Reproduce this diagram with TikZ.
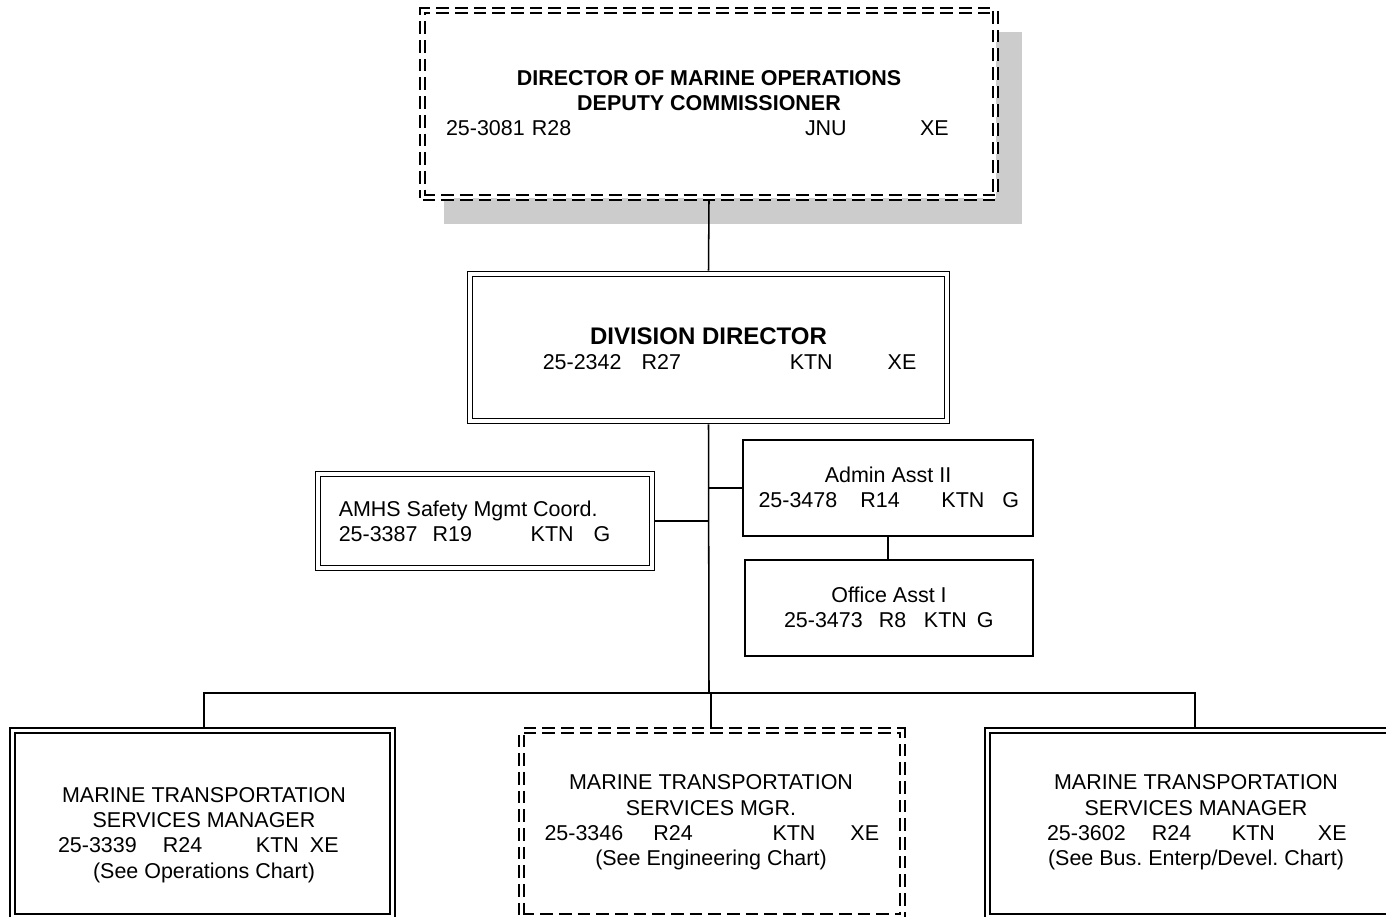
\documentclass[tikz,border=0pt]{standalone}
\usepackage{fontspec}
\setmainfont{Liberation Sans}
\frenchspacing
\newdimen\pu \pu=0.75pt
\newcommand\cel[2]{\makebox[#1\pu][l]{#2}}
\definecolor{shadowgray}{RGB}{204,204,204}
\begin{document}
\begin{tikzpicture}[x=0.75pt,y=-0.75pt,line width=1.15pt,
  every node/.style={font=\fontsize{16.1}{19}\selectfont},
  sbox/.style={draw,fill=white,inner sep=0pt},
  dbox/.style={draw,fill=white,inner sep=0pt,double,double distance=2.9pt,outer sep=2.6pt},
  dashbox/.style={dbox,dash pattern=on 9.5pt off 4.5pt},
  tx/.style={align=center,inner sep=0pt},
  link/.style={draw,line width=1.15pt}]
\useasboundingbox (0,0) rectangle (1386,917);
% shadow of top box
\fill[shadowgray] (444,32) rectangle (1022,224);
% boxes
\node[dashbox,minimum width=573*0.75pt,minimum height=187*0.75pt] (top) at (709,104) {};
\node[dbox,minimum width=477*0.75pt,minimum height=147*0.75pt] (div) at (708.5,347.5) {};
\node[dbox,minimum width=334*0.75pt,minimum height=94*0.75pt] (amhs) at (485,521) {};
\node[sbox,minimum width=290*0.75pt,minimum height=96*0.75pt] (admin) at (888,488) {};
\node[sbox,minimum width=288*0.75pt,minimum height=96*0.75pt] (office) at (889,608) {};
\node[dbox,minimum width=380*0.75pt,minimum height=186*0.75pt] (mleft) at (202.5,823.5) {};
\node[dashbox,minimum width=381*0.75pt,minimum height=186*0.75pt] (mmid) at (712,823.5) {};
\node[dbox,minimum width=420*0.75pt,minimum height=186*0.75pt] (mright) at (1197.5,823.5) {};
% texts
\node[tx] (ttop) at (709,103) {\textbf{DIRECTOR OF MARINE OPERATIONS}\\\textbf{DEPUTY COMMISSIONER}\\
  \cel{86}{25-3081}\cel{273}{R28}\cel{115}{JNU}\cel{52}{XE}};
\node[tx] (tdiv) at (708.5,348.5) {{\fontsize{18}{19}\selectfont\textbf{DIVISION DIRECTOR}}\\
  \hspace*{39.5\pu}\cel{99}{25-2342}\cel{148}{R27}\cel{98}{KTN}\cel{26}{XE}};
\node[tx,align=left,anchor=west] (tamhs) at (338,521) {AMHS Safety Mgmt Coord.\\
  \cel{94}{25-3387}\cel{98}{R19}\cel{63}{KTN}G};
\node[tx] (tadmin) at (888,487) {Admin Asst II\\
  \cel{102}{25-3478}\cel{81}{R14}\cel{61}{KTN}\cel{15}{G}};
\node[tx] (toffice) at (889,607.5) {Office Asst I\\
  \cel{95}{25-3473}\cel{45}{R8}\cel{53}{KTN}\cel{17}{G}};
\node[tx] (tleft) at (204,835) {MARINE TRANSPORTATION\\SERVICES MANAGER\\
  \cel{105}{25-3339}\cel{93}{R24}\cel{54}{KTN}\cel{40}{XE}\\(See Operations Chart)};
\node[tx] (tmid) at (711,822.5) {MARINE TRANSPORTATION\\SERVICES MGR.\\
  \cel{109}{25-3346}\cel{119}{R24}\cel{78}{KTN}\cel{27}{XE}\\(See Engineering Chart)};
\node[tx] (tright) at (1196,822.5) {MARINE TRANSPORTATION\\SERVICES MANAGER\\
  \cel{105}{25-3602}\cel{80}{R24}\cel{86}{KTN}\cel{27}{XE}\\(See Bus. Enterp/Devel. Chart)};
% connectors
\coordinate (bus) at (709,693);
\draw[link] (top.south) -- (div.north);
\draw[link] (div.south) -- (bus);
\draw[link] (admin.west) -- (admin.west -| div.south);
\draw[link] (amhs.east) -- (amhs.east -| div.south);
\draw[link] (admin.south) -- (admin.south |- office.north);
\draw[link] (mleft.north -| 204,0) |- (bus) -| (mright.north -| 1195,0);
\draw[link] (mmid.north -| 711,0) -- (bus -| 711,0);
\end{tikzpicture}
\end{document}
